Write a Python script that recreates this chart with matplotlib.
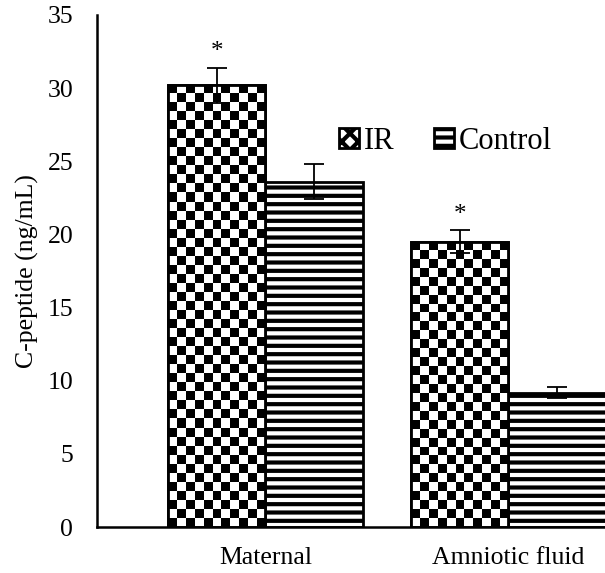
import numpy as np
import matplotlib.pyplot as plt
from matplotlib.patches import Patch

plt.rcParams['font.family'] = ['Liberation Serif', 'DejaVu Serif']
plt.rcParams['hatch.linewidth'] = 3.0

# Data
groups = ['Maternal', 'Amniotic fluid']
ir_vals = [30.2, 19.5]
ir_err = [1.2, 0.8]
ctrl_vals = [23.6, 9.2]
ctrl_err = [1.2, 0.4]
yticks = [0, 5, 10, 15, 20, 25, 30, 35]

fig = plt.figure(figsize=(6.05, 5.73), dpi=100)
ax = fig.add_axes([0.160, 0.080, 0.845, 0.894])

x = np.arange(len(groups))
w = 0.4

ir_bars = ax.bar(x - w / 2, ir_vals, w, color='white', edgecolor='black',
                 linewidth=2, zorder=2)
ctrl_bars = ax.bar(x + w / 2, ctrl_vals, w, color='white', edgecolor='black',
                   linewidth=2, hatch='--', zorder=2)

ax.set_xlim(-0.694, 1.41)
ax.set_ylim(0, 35)

# checkerboard fill for IR bars
fig.canvas.draw()
cell = 9.0
for b in ir_bars:
    bb = b.get_window_extent()
    nx = max(1, int(round(bb.width / cell)))
    ny = max(1, int(round(bb.height / cell)))
    checker = (np.indices((ny, nx)).sum(axis=0) % 2).astype(float)
    im = ax.imshow(checker, cmap='gray', vmin=0, vmax=1, interpolation='nearest',
                   extent=[b.get_x(), b.get_x() + b.get_width(), 0, b.get_height()],
                   aspect='auto', zorder=2.5)
    im.set_clip_path(b)
    # outline again on top of the image
    ax.bar(b.get_x() + b.get_width() / 2, b.get_height(), b.get_width(),
           fill=False, edgecolor='black', linewidth=2, zorder=3)
ax.set_xlim(-0.694, 1.41)
ax.set_ylim(0, 35)
ax.set_aspect('auto')

ax.errorbar(x - w / 2, ir_vals, yerr=ir_err, fmt='none', ecolor='black',
            elinewidth=1.3, capsize=7, capthick=1.3, zorder=4)
ax.errorbar(x + w / 2, ctrl_vals, yerr=ctrl_err, fmt='none', ecolor='black',
            elinewidth=1.3, capsize=7, capthick=1.3, zorder=4)

# significance markers
for xi, v, e in zip(x - w / 2, ir_vals, ir_err):
    ax.text(xi, v + e + 0.3, '*', ha='center', va='bottom', fontsize=18)

ax.set_yticks(yticks)
ax.set_xticks(x)
ax.set_xticklabels(groups)
ax.tick_params(axis='y', length=0, labelsize=18.5, pad=17)
ax.tick_params(axis='x', length=0, labelsize=18.5, pad=14)
ax.set_ylabel('C-peptide (ng/mL)', fontsize=18.5, labelpad=6)

for s in ['top', 'right']:
    ax.spines[s].set_visible(False)
for s in ['left', 'bottom']:
    ax.spines[s].set_linewidth(1.8)

handles = [Patch(facecolor='white', edgecolor='black', hatch='xx', linewidth=2),
           Patch(facecolor='white', edgecolor='black', hatch='--', linewidth=2)]
ax.legend(handles, ['IR', 'Control'], loc='upper left', bbox_to_anchor=(0.42, 0.835),
          ncol=2, frameon=False, fontsize=22, handlelength=0.65, handleheight=0.65,
          handletextpad=0.15, columnspacing=1.3)

fig.savefig('out.png', dpi=100)
